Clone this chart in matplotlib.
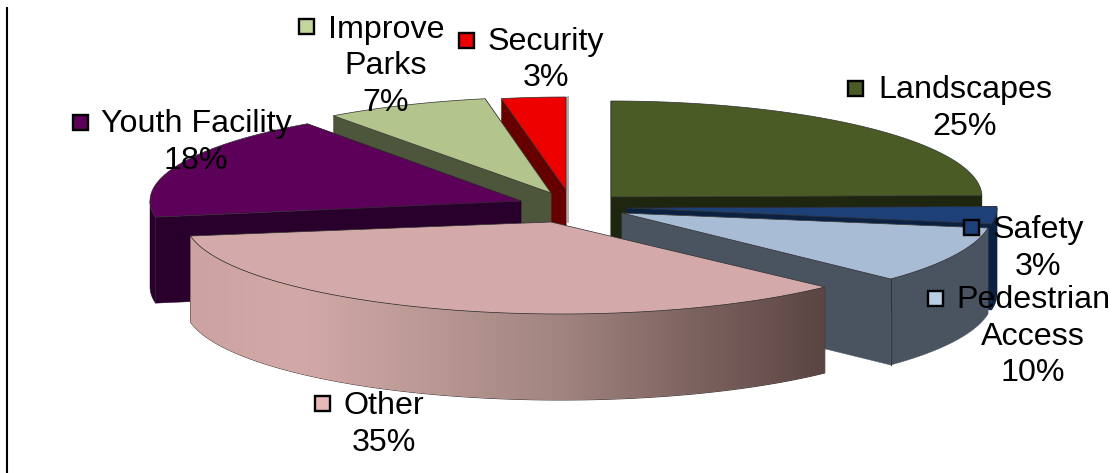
#!/usr/bin/env python3
# -*- coding: utf-8 -*-
"""Exploded pie of community priorities, drawn by hand with a fake 3D rim."""
import numpy as np
import matplotlib
matplotlib.use('Agg')
import matplotlib.pyplot as plt
from matplotlib.colors import LinearSegmentedColormap
from matplotlib.patches import Polygon, Rectangle

plt.rcParams['font.family'] = ['Liberation Sans', 'DejaVu Sans']

# clockwise from 12 o'clock
categories = ['Landscapes', 'Safety', 'Pedestrian Access', 'Other',
              'Youth Facility', 'Improve Parks', 'Security']
values = [25, 3, 10, 35, 18, 7, 3]
top_colors = ['#4B5B25', '#1E4079', '#A9BCD5', '#D3A9A9', '#5C0059', '#B3C58C', '#EE0000']
side_colors = ['#1F2610', '#0B2142', '#4A5360', '#8A6E6B', '#29002C', '#4D563B', '#660000']
key_colors = ['#4B5B25', '#1E4079', '#B9CDE5', '#E6B9B8', '#5C0059', '#C3D69B', '#EE0000']

# label lines, in order with categories
label_lines = [['Landscapes'], ['Safety'], ['Pedestrian', 'Access'], ['Other'],
               ['Youth Facility'], ['Improve', 'Parks'], ['Security']]

# apex x/y, ellipse centre x/y, ellipse radii for each wedge (pixels)
apex = [(611, 197), (627, 208), (622, 213), (551, 222), (521, 201), (551, 193), (566, 190)]
centre = [(611, 197), (627, 208), (650, 212), (561, 220), (527, 201), (556, 197), (566, 190)]
radii = [(371, 96), (370, 94), (343, 94), (376, 94), (377, 95), (382, 100), (348, 93)]
depth = 86

# first text line centre and colour key position
label_pos = [(965, 90), (1038, 230), (1033, 300), (384, 406), (196, 124), (386, 30), (546, 42)]
key_pos = [(855, 89), (971, 227), (935, 298), (322, 403), (80, 122), (306, 27), (466, 41)]
line_gap = 36.5

fig = plt.figure(figsize=(11.15, 4.73), dpi=100)
ax = fig.add_axes([0, 0, 1, 1])
ax.set_xlim(0, 1115)
ax.set_ylim(473, 0)
ax.axis('off')

ax.plot([7, 7], [7, 473], color='black', lw=1.5, solid_capstyle='butt')

fractions = np.array(values) / np.sum(values)
edges = np.concatenate([[0], np.cumsum(fractions)]) * 2 * np.pi


def rim(i):
    t = np.linspace(edges[i], edges[i + 1], 80)
    cx, cy = centre[i]
    rx, ry = radii[i]
    return t, np.column_stack([cx + rx * np.sin(t), cy - ry * np.cos(t)])


def draw_wedge(i, z):
    t, r = rim(i)
    tip = np.array(apex[i], dtype=float)
    outline = np.vstack([tip, r, tip])
    shift = np.array([0, depth])
    # only the front half of the rim shows a wall
    front = r[np.cos(t) < 0]
    wall_pts = np.vstack([front, (front + shift)[::-1]])
    if categories[i] == 'Other':
        # the near wall of this slice fades left to right
        cmap = LinearSegmentedColormap.from_list('wall', [
            (0.0, '#CDA3A2'), (0.17, '#D3A9A8'), (0.33, '#C09C99'),
            (0.58, '#A28580'), (0.8, '#7C625F'), (1.0, '#5A4543')])
        wall = Polygon(wall_pts, closed=True, fc='none', ec='#3A3030', lw=0.7, zorder=z)
        ax.add_patch(wall)
        im = ax.imshow(np.linspace(0, 1, 256).reshape(1, -1), cmap=cmap, aspect='auto',
                       extent=(r[:, 0].min(), r[:, 0].max(), 473, 0), zorder=z)
        im.set_clip_path(wall)
    else:
        for end in (r[0], r[-1]):
            quad = [tip, end, end + shift, tip + shift]
            ax.add_patch(Polygon(quad, closed=True, fc=side_colors[i], ec=side_colors[i],
                                 lw=0.3, zorder=z))
        if len(front) > 1:
            ax.add_patch(Polygon(wall_pts, closed=True, fc=side_colors[i], ec=side_colors[i],
                                 lw=0.3, zorder=z))
    if categories[i] == 'Pedestrian Access':
        ax.plot([r[-1, 0]] * 2, [r[-1, 1], r[-1, 1] + depth], color='#2E343C', lw=0.8,
                zorder=z + 0.1)
    ax.add_patch(Polygon(outline, closed=True, fc=top_colors[i], ec='#303030', lw=0.5,
                         zorder=z + 0.5))


# back wedges first so the front ones overlap them
for z, i in enumerate([6, 5, 4, 0, 1, 2, 3]):
    draw_wedge(i, z + 10)

# thin grey shadow on the right of the red slice
ax.plot([567.5, 567.5], [97, 222], color='#A0A0A0', lw=1.2, zorder=9)

for i, name in enumerate(categories):
    x, y = label_pos[i]
    for n, line in enumerate(label_lines[i] + ['{}%'.format(values[i])]):
        ax.text(x, y + n * line_gap, line, ha='center', va='center', fontsize=23.2,
                color='black', zorder=30)
    kx, ky = key_pos[i]
    ax.add_patch(Rectangle((kx - 7.5, ky - 7.5), 15, 15, fc=key_colors[i], ec='black',
                           lw=1.7, zorder=31))

ax.set_xlim(0, 1115)
ax.set_ylim(473, 0)
fig.savefig('out.png', dpi=100, facecolor='white')
